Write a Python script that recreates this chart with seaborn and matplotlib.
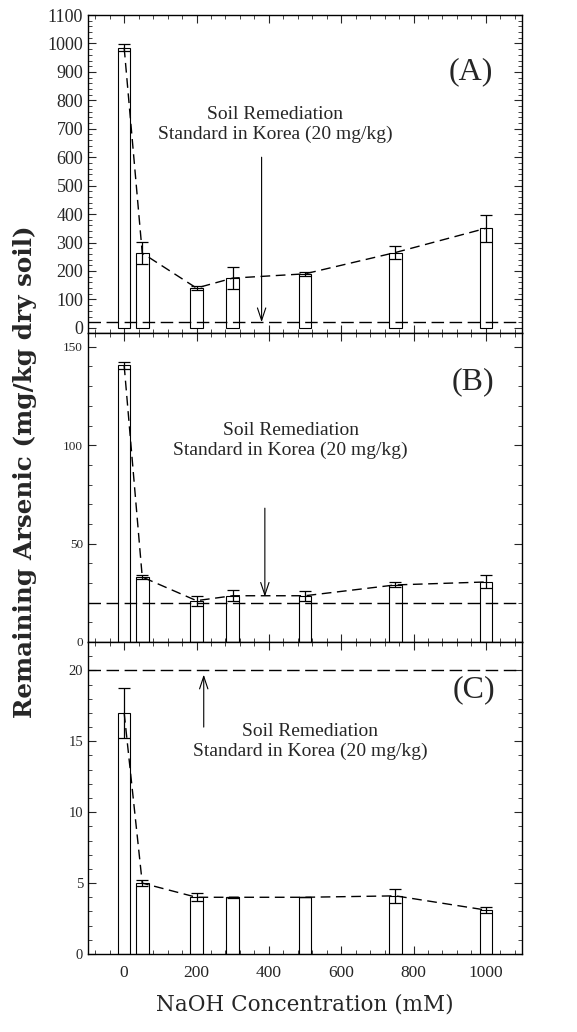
import matplotlib
matplotlib.use('Agg')
import matplotlib.pyplot as plt
import seaborn as sns
import pandas as pd
from matplotlib.ticker import MultipleLocator, AutoMinorLocator

conc = [0, 50, 200, 300, 500, 750, 1000]
as_A = [985, 263, 140, 175, 190, 265, 350]
err_A = [13, 38, 8, 40, 8, 22, 47]
as_B = [140.5, 33, 21, 23.5, 23.5, 29, 30.5]
err_B = [2, 0.8, 2.5, 2.7, 2.5, 1.3, 3.3]
as_C = [17, 5, 4, 4, 4, 4.1, 3.1]
err_C = [1.75, 0.2, 0.27, 0.05, 0.0, 0.48, 0.19]
standard = 20
xticks = [0, 200, 400, 600, 800, 1000]
note = "Soil Remediation\nStandard in Korea (20 mg/kg)"

sns.set_style('ticks')
plt.rcParams['font.family'] = ['Liberation Serif', 'DejaVu Serif']
plt.rcParams['axes.linewidth'] = 1.0

fig = plt.figure(figsize=(5.77, 10.32), dpi=100)
W, H = 577, 1032
left, right = 88, 522
bounds = [(15, 333), (333, 642), (642, 954)]
axes = []
for top, bot in bounds:
    ax = fig.add_axes([left / W, 1 - bot / H, (right - left) / W, (bot - top) / H])
    axes.append(ax)

panels = [
    dict(vals=as_A, err=err_A, ylim=(-18, 1100), major=100, minor=5, tsize=13,
         label='(A)', lab_xy=(958, 900), txt_xy=(418, 714),
         arrow=((380, 600), (380, standard)), cap=4),
    dict(vals=as_B, err=err_B, ylim=(0, 157), major=50, minor=5, tsize=9.5,
         label='(B)', lab_xy=(963, 132), txt_xy=(460, 102.5),
         arrow=((389, 68), (389, 23)), cap=4),
    dict(vals=as_C, err=err_C, ylim=(0, 22), major=5, minor=5, tsize=10.5,
         label='(C)', lab_xy=(967, 18.6), txt_xy=(515, 15),
         arrow=((220, 16), (220, 19.7)), cap=4),
]

for ax, p in zip(axes, panels):
    df = pd.DataFrame({'conc': conc, 'val': p['vals']})
    sns.barplot(data=df, x='conc', y='val', native_scale=True, width=0.7,
                color='white', edgecolor='black', linewidth=0.8,
                errorbar=None, ax=ax, zorder=2)
    ax.errorbar(conc, p['vals'], yerr=p['err'], fmt='none', ecolor='black',
                elinewidth=0.9, capsize=p['cap'], capthick=0.9, zorder=4)
    sns.lineplot(data=df, x='conc', y='val', color='black', lw=1.0,
                 linestyle=(0, (7, 4)), ax=ax, zorder=3)
    ax.axhline(standard, color='black', lw=1.0, linestyle=(0, (9, 4)), zorder=3)
    ax.set_xlim(-100, 1100)
    ax.set_ylim(*p['ylim'])
    ax.yaxis.set_major_locator(MultipleLocator(p['major']))
    ax.yaxis.set_minor_locator(AutoMinorLocator(p['minor']))
    ax.set_xticks(xticks)
    ax.xaxis.set_minor_locator(AutoMinorLocator(5))
    ax.tick_params(which='both', direction='in', top=True, right=True)
    ax.tick_params(which='major', length=6, width=0.8)
    ax.tick_params(which='minor', length=3, width=0.6)
    ax.tick_params(axis='y', labelsize=p['tsize'])
    ax.set_xlabel('')
    ax.set_ylabel('')
    ax.text(*p['lab_xy'], p['label'], fontsize=23, ha='center', va='center')
    ax.text(*p['txt_xy'], note, fontsize=14, ha='center', va='center',
            linespacing=1.2)
    ax.annotate('', xy=p['arrow'][1], xytext=p['arrow'][0],
                arrowprops=dict(arrowstyle='->,head_length=0.9,head_width=0.3',
                                color='black', lw=0.8, shrinkA=0, shrinkB=0))
    for s in ax.spines.values():
        s.set_visible(True)
        s.set_color('black')

for ax in axes[:2]:
    ax.tick_params(axis='x', labelbottom=False)
axes[2].tick_params(axis='x', labelsize=12.5, pad=8)

fig.text(25 / W, 1 - 472 / H, 'Remaining Arsenic (mg/kg dry soil)',
         rotation=90, ha='center', va='center', fontsize=17.7,
         fontweight='bold', family='DejaVu Serif')
fig.text(305 / W, 1 - 1005 / H, 'NaOH Concentration (mM)', ha='center',
         va='center', fontsize=15.5, family='DejaVu Serif')

fig.savefig('out.png', dpi=100)
